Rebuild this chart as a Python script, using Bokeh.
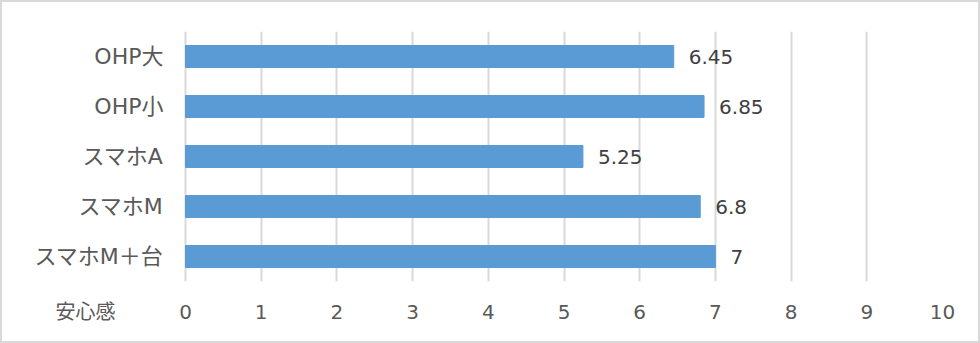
from bokeh.plotting import figure
from bokeh.models import ColumnDataSource, FixedTicker, Range1d
from bokeh.core.properties import value
from bokeh.embed import file_html
from bokeh.resources import INLINE

categories = ["OHP大", "OHP小", "スマホA", "スマホM", "スマホM＋台"]
scores = [6.45, 6.85, 5.25, 6.8, 7]
score_labels = ["6.45", "6.85", "5.25", "6.8", "7"]
x_ticks = [0, 1, 2, 3, 4, 5, 6, 7, 8, 9, 10]
axis_title = "安心感"

# layout constants (canvas pixels)
W, H = 980, 343
ZERO_PX, TEN_PX = 183, 940
TOP_PX, BOT_PX = 29, 279
FRAME_L = 2
TITLE_PX = 83

px_per_unit = (TEN_PX - ZERO_PX) / 10
x_start = -(ZERO_PX - FRAME_L) / px_per_unit
title_pos = round((TITLE_PX - ZERO_PX) / px_per_unit, 3)

FONT = "DejaVu Sans, Noto Sans CJK JP"
TXT = "#595959"

src = ColumnDataSource(dict(cat=categories, val=scores, lab=score_labels,
                            zero=[0] * len(categories)))

p = figure(width=W, height=H, y_range=list(reversed(categories)),
           x_range=Range1d(x_start, 10), output_backend="svg", toolbar_location=None,
           min_border_left=FRAME_L, min_border_right=W - TEN_PX, min_border_top=TOP_PX,
           min_border_bottom=H - BOT_PX,
           styles={"border": "2px solid #d9d9d9"})
p.outline_line_color = None
p.background_fill_color = "white"
p.border_fill_color = "white"

p.hbar(y="cat", right="val", left=0, height=0.44, source=src,
       fill_color="#5b9bd5", line_color="#5b9bd5")
p.text(x="val", y="cat", text="lab", source=src, x_offset=15,
       text_align="left", text_baseline="middle", text_font=value(FONT),
       text_font_size="20px", text_color="#404040")
# category labels
p.text(x="zero", y="cat", text="cat", source=src, x_offset=-22,
       text_align="right", text_baseline="middle", text_font=value(FONT),
       text_font_size="22px", text_color=TXT)

p.xaxis.ticker = FixedTicker(ticks=[title_pos] + x_ticks)
p.xaxis.major_label_overrides = {title_pos: axis_title}
p.xaxis.axis_line_color = None
p.xaxis.major_tick_line_color = None
p.xaxis.minor_tick_line_color = None
p.xaxis.major_label_text_font = FONT
p.xaxis.major_label_text_font_size = "20px"
p.xaxis.major_label_text_color = TXT
p.xaxis.major_label_standoff = 12

p.yaxis.visible = False

p.xgrid.ticker = FixedTicker(ticks=x_ticks)
p.xgrid.grid_line_color = "#d9d9d9"
p.xgrid.grid_line_width = 2
p.ygrid.grid_line_color = None

open("out.html", "w").write(file_html(p, INLINE))
